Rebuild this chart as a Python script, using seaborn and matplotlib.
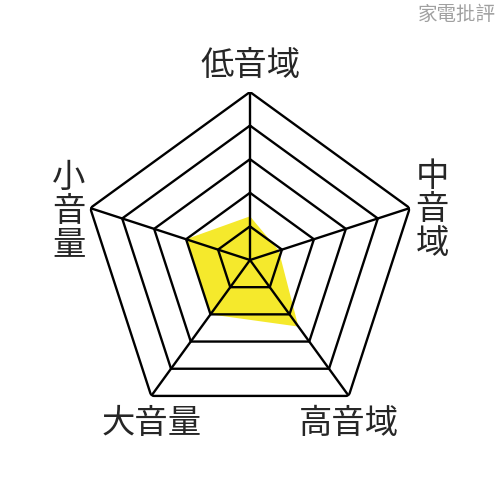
import numpy as np
import matplotlib
matplotlib.use('Agg')
import matplotlib.pyplot as plt
import seaborn as sns

# axes (clockwise from top) and scores on a 0-5 scale
categories = ['低音域', '中音域', '高音域', '大音量', '小音量']
scores = [1.3, 0.9, 2.45, 2.0, 2.0]
levels = [1, 2, 3, 4, 5]

sns.set_theme(style='white')
plt.rcParams['font.family'] = ['Noto Sans CJK JP', 'DejaVu Sans']

fig = plt.figure(figsize=(5, 5), dpi=100)
ax = fig.add_axes([0.164, 0.144, 0.672, 0.672], projection='polar')
ax.set_theta_offset(np.pi / 2)
ax.set_theta_direction(-1)

n = len(categories)
angles = np.linspace(0, 2 * np.pi, n, endpoint=False)
closed = np.append(angles, angles[0])

# score polygon (under the grid)
vals = np.append(scores, scores[0])
ax.fill(closed, vals, color='#F5E92C', lw=0, zorder=1)

# pentagon rings
for lv in levels:
    ax.plot(closed, [lv] * (n + 1), color='black', lw=1.7, zorder=2)

# spokes
for a in angles:
    ax.plot([a, a], [0, levels[-1]], color='black', lw=1.7, zorder=2)

ax.set_ylim(0, levels[-1])
ax.set_xticks([])
ax.set_yticks([])
ax.grid(False)
ax.spines['polar'].set_visible(False)
ax.set_facecolor('none')

# axis labels
fs = 24
fig.text(0.502, 0.868, categories[0], fontsize=fs, ha='center', va='center')
fig.text(0.864, 0.580, '\n'.join(categories[1]), fontsize=fs, ha='center', va='center', linespacing=0.95)
fig.text(0.698, 0.154, categories[2], fontsize=fs, ha='center', va='center')
fig.text(0.304, 0.154, categories[3], fontsize=fs, ha='center', va='center')
fig.text(0.138, 0.578, '\n'.join(categories[4]), fontsize=fs, ha='center', va='center', linespacing=0.95)

# watermark
fig.text(0.991, 0.972, '家電批評', fontsize=14, color='#A0A0A0', ha='right', va='center',
         family=['Noto Sans CJK TC', 'DejaVu Sans'])

fig.savefig('out.png', dpi=100, facecolor='white')
